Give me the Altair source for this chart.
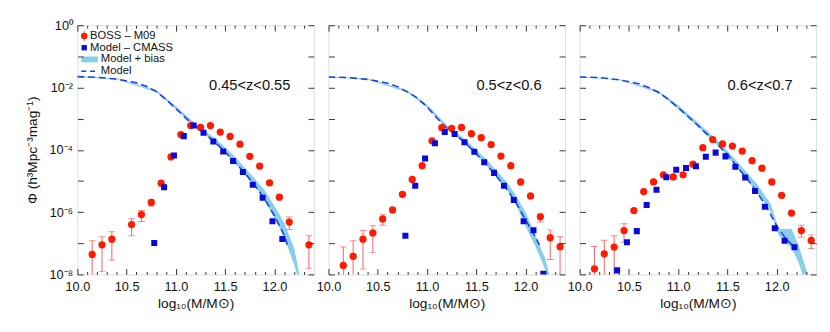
import altair as alt
import pandas as pd

XMIN, XMAX = 10.0, 12.4
YMIN, YMAX = -8.0, 0.0
W, H = 242, 255
FONT = "Liberation Sans"

z_labels = ["0.45<z<0.55", "0.5<z<0.6", "0.6<z<0.7"]
legend_labels = ["BOSS – M09", "Model – CMASS", "Model + bias", "Model"]

x_major = [10.0, 10.5, 11.0, 11.5, 12.0]
x_minor = [10.1, 10.2, 10.3, 10.4, 10.6, 10.7, 10.8, 10.9, 11.1, 11.2, 11.3, 11.4,
           11.6, 11.7, 11.8, 11.9, 12.1, 12.2, 12.3]
y_decades = [-8, -7, -6, -5, -4, -3, -2, -1, 0]
y_labelled = [-8, -6, -4, -2, 0]

# ---- BOSS - M09 (red circles), log10(Phi) ----
red_x = [
    [10.15, 10.25, 10.35, 10.55, 10.65, 10.75, 10.85, 10.95, 11.05, 11.15, 11.25, 11.35,
     11.45, 11.55, 11.65, 11.75, 11.85, 11.95, 12.05, 12.15, 12.35],
    [10.15, 10.25, 10.35, 10.45, 10.55, 10.65, 10.75, 10.85, 10.95, 11.05, 11.15, 11.25,
     11.35, 11.45, 11.55, 11.65, 11.75, 11.85, 11.95, 12.05, 12.15, 12.25, 12.35],
    [10.15, 10.25, 10.35, 10.45, 10.55, 10.65, 10.75, 10.85, 10.95, 11.05, 11.15, 11.25,
     11.35, 11.45, 11.55, 11.65, 11.75, 11.85, 11.95, 12.05, 12.15, 12.25, 12.35],
]
red_y = [
    [-7.36, -7.05, -6.87, -6.40, -6.08, -5.69, -5.07, -4.23, -3.51, -3.22, -3.28, -3.22,
     -3.43, -3.57, -3.82, -4.21, -4.52, -5.06, -5.52, -6.32, -7.05],
    [-7.71, -7.42, -6.87, -6.67, -6.22, -5.93, -5.43, -4.95, -4.51, -3.71, -3.29, -3.31,
     -3.28, -3.48, -3.61, -3.83, -4.20, -4.51, -5.03, -5.48, -6.15, -6.82, -7.11],
    [-7.82, -7.34, -7.12, -6.59, -5.95, -5.34, -5.03, -4.80, -4.87, -4.80, -4.46, -3.93,
     -3.67, -3.81, -3.88, -4.04, -4.35, -4.59, -5.03, -5.46, -6.03, -6.59, -6.91],
]
# visible error bars
err_x = [
    [10.15, 10.25, 10.35, 10.55, 10.65, 10.75, 12.15, 12.35],
    [10.15, 10.25, 10.35, 10.45, 10.55, 12.15, 12.25, 12.35],
    [10.15, 10.25, 10.35, 10.45, 12.25, 12.35],
]
err_hi = [
    [-6.92, -6.79, -6.63, -6.21, -5.95, -5.61, -6.16, -6.76],
    [-7.12, -6.92, -6.59, -6.44, -6.08, -6.06, -6.57, -6.79],
    [-7.10, -6.90, -6.76, -6.37, -6.42, -6.73],
]
err_lo = [
    [-9.0, -7.91, -7.54, -6.76, -6.30, -5.80, -6.56, -7.80],
    [-9.0, -9.0, -7.83, -7.30, -6.42, -6.32, -7.52, -9.0],
    [-9.0, -9.0, -9.0, -6.97, -6.81, -7.17],
]

# ---- Model - CMASS (blue squares) ----
blue_x = [
    [10.78, 10.88, 10.98, 11.08, 11.18, 11.28, 11.38, 11.48, 11.58, 11.68, 11.78, 11.88,
     11.98, 12.08],
    [10.78, 10.88, 10.98, 11.08, 11.18, 11.28, 11.38, 11.48, 11.58, 11.68, 11.78, 11.88,
     11.98, 12.08, 12.18],
    [10.38, 10.48, 10.58, 10.68, 10.78, 10.88, 10.98, 11.08, 11.18, 11.28, 11.38, 11.48,
     11.58, 11.68, 11.78, 11.88, 11.98, 12.08, 12.18],
]
blue_y = [
    [-6.99, -5.20, -4.18, -3.56, -3.22, -3.45, -3.73, -4.05, -4.36, -4.71, -5.12, -5.54,
     -6.29, -6.86],
    [-6.76, -5.15, -4.28, -3.79, -3.43, -3.49, -3.76, -4.06, -4.40, -4.74, -5.15, -5.61,
     -6.29, -6.58, -7.98],
    [-7.87, -6.97, -6.61, -5.77, -5.28, -4.88, -4.64, -4.58, -4.53, -4.22, -4.09, -4.21,
     -4.54, -4.89, -5.32, -5.83, -6.52, -6.92, -7.13],
]

# ---- Model (dashed) ----
model_x = [
    [10.0, 10.2, 10.4, 10.6, 10.7, 10.8, 10.9, 11.0, 11.1, 11.2, 11.3, 11.4, 11.5, 11.6,
     11.7, 11.8, 11.9, 12.0, 12.1, 12.13],
    [10.0, 10.2, 10.4, 10.6, 10.7, 10.8, 10.9, 11.0, 11.1, 11.2, 11.3, 11.4, 11.5, 11.6,
     11.7, 11.8, 11.9, 12.0, 12.1, 12.14],
    [10.0, 10.2, 10.4, 10.6, 10.7, 10.8, 10.9, 11.0, 11.1, 11.2, 11.3, 11.4, 11.5, 11.6,
     11.7, 11.8, 11.9, 12.0, 12.1, 12.19],
]
model_y = [
    [-1.65, -1.67, -1.73, -1.85, -1.96, -2.13, -2.38, -2.68, -2.98, -3.26, -3.50, -3.77,
     -4.07, -4.40, -4.75, -5.14, -5.58, -6.12, -6.75, -7.05],
    [-1.66, -1.68, -1.74, -1.86, -1.97, -2.14, -2.33, -2.62, -2.98, -3.30, -3.54, -3.82,
     -4.13, -4.47, -4.83, -5.22, -5.68, -6.25, -6.80, -7.05],
    [-1.66, -1.68, -1.75, -1.88, -2.00, -2.16, -2.38, -2.65, -2.93, -3.22, -3.52, -3.83,
     -4.15, -4.55, -4.93, -5.36, -5.85, -6.45, -6.88, -7.15],
]

# ---- Model + bias (band) ----
band_x = [
    [10.0, 10.4, 10.8, 11.0, 11.2, 11.4, 11.6, 11.8, 11.9, 12.0, 12.1, 12.2, 12.26],
    [10.0, 10.4, 10.8, 11.0, 11.2, 11.4, 11.6, 11.8, 11.9, 12.0, 12.1, 12.2, 12.25],
    [10.0, 10.4, 10.8, 11.0, 11.2, 11.4, 11.6, 11.8, 11.94, 12.02, 12.15, 12.22, 12.32],
]
band_hi = [
    [-1.63, -1.71, -2.08, -2.60, -3.16, -3.64, -4.22, -4.93, -5.30, -5.80, -6.35, -7.15, -8.1],
    [-1.64, -1.72, -2.09, -2.55, -3.20, -3.70, -4.30, -5.00, -5.45, -6.00, -6.75, -7.50, -8.1],
    [-1.64, -1.73, -2.10, -2.57, -3.12, -3.70, -4.38, -5.10, -5.74, -6.55, -6.53, -7.05, -8.05],
]
band_lo = [
    [-1.66, -1.74, -2.14, -2.70, -3.28, -3.79, -4.42, -5.17, -5.62, -6.18, -6.80, -7.70, -8.3],
    [-1.67, -1.75, -2.15, -2.64, -3.32, -3.84, -4.49, -5.24, -5.75, -6.45, -7.10, -7.85, -8.3],
    [-1.67, -1.76, -2.17, -2.68, -3.26, -3.86, -4.58, -5.36, -5.98, -6.75, -7.15, -7.60, -8.6],
]

RED = "#ff1a00"
ERR = "#f06060"
BLUE = "#0a0ad8"
BAND = "#87ceeb"
DASH = "#1f3fe6"

xs = alt.Scale(domain=[XMIN, XMAX], nice=False, zero=False)
ys = alt.Scale(domain=[YMIN, YMAX], nice=False, zero=False)

LABEL_EXPR = ("datum.value == 0 ? '10⁰' : datum.value == -2 ? '10⁻²' : "
              "datum.value == -4 ? '10⁻⁴' : datum.value == -6 ? '10⁻⁶' : "
              "datum.value == -8 ? '10⁻⁸' : ''")


def tick_axis(orient, values, size, offset):
    return alt.Axis(orient=orient, values=values, tickSize=size, offset=offset,
                    labels=False, domain=False, title=None, grid=False,
                    ticks=True, tickColor="#333", tickWidth=1, zindex=1)


def panel(i):
    band = pd.DataFrame({"x": band_x[i], "hi": band_hi[i], "lo": band_lo[i]})
    model = pd.DataFrame({"x": model_x[i], "y": model_y[i]})
    red = pd.DataFrame({"x": red_x[i], "y": red_y[i]})
    blue = pd.DataFrame({"x": blue_x[i], "y": blue_y[i]})
    err = pd.DataFrame({"x": err_x[i], "hi": err_hi[i], "lo": err_lo[i]})

    def X(f="x", axis=None):
        return alt.X(f, type="quantitative", scale=xs, axis=axis)

    def Y(f="y", axis=None):
        return alt.Y(f, type="quantitative", scale=ys, axis=axis)

    layers = []
    layers.append(alt.Chart(band).mark_area(color=BAND, clip=True).encode(
        x=X(), y=Y("hi"), y2="lo"))
    layers.append(alt.Chart(model).mark_line(color=DASH, strokeWidth=1.6,
                                              strokeDash=[7, 4], clip=True).encode(
        x=X(), y=Y()))
    layers.append(alt.Chart(err).mark_rule(color=ERR, strokeWidth=1, clip=True).encode(
        x=X(), y=Y("hi"), y2="lo"))
    layers.append(alt.Chart(err).mark_tick(color=ERR, orient="horizontal", size=7,
                                            thickness=1, clip=True).encode(
        x=X(), y=Y("hi")))
    layers.append(alt.Chart(err).mark_tick(color=ERR, orient="horizontal", size=7,
                                            thickness=1, clip=True).encode(
        x=X(), y=Y("lo")))
    layers.append(alt.Chart(red).mark_point(shape="circle", filled=True, color=RED,
                                             size=55, opacity=1, clip=True).encode(
        x=X(), y=Y()))
    layers.append(alt.Chart(blue).mark_point(shape="square", filled=True, color=BLUE,
                                              size=38, opacity=1, clip=True).encode(
        x=X(), y=Y()))

    zdf = pd.DataFrame({"t": [z_labels[i]]})
    layers.append(alt.Chart(zdf).mark_text(font=FONT, fontSize=15, align="right",
                                            baseline="middle", color="#111").encode(
        x=alt.value(W - 24), y=alt.value(61), text="t:N"))

    # axes
    xlab = alt.Axis(orient="bottom", values=x_major, format=".1f", ticks=False,
                    tickSize=0, domain=False, grid=False, labelFont=FONT,
                    labelFontSize=13, labelColor="#111", labelPadding=6,
                    labelFlush=False, labelOverlap=False,
                    title="log₁₀(M/M⊙)", titleFont=FONT, titleFontSize=14,
                    titleFontWeight="normal", titleColor="#111", titlePadding=4)
    if i == 0:
        ylab = alt.Axis(orient="left", values=y_labelled, labelExpr=LABEL_EXPR,
                        ticks=False, tickSize=0, domain=False, grid=False,
                        labelFont=FONT, labelFontSize=13, labelColor="#111",
                        labelPadding=5, labelFlush=False, labelOverlap=False,
                        title="Φ (h³Mpc⁻³mag⁻¹)", titleFont=FONT, titleFontSize=14,
                        titleFontWeight="normal", titleColor="#111", titlePadding=10)
    else:
        ylab = None
    layers.append(alt.Chart(band).mark_point(opacity=0).encode(
        x=X("x", xlab), y=Y("hi", ylab)))
    layers.append(alt.Chart(band).mark_point(opacity=0).encode(
        x=X("x", tick_axis("top", x_major, 6, -H)),
        y=Y("hi", tick_axis("right", y_decades, 6, -W))))
    layers.append(alt.Chart(band).mark_point(opacity=0).encode(
        x=X("x", tick_axis("top", x_minor, 3, -H)),
        y=Y("hi", tick_axis("left", y_decades, 6, -W))))
    layers.append(alt.Chart(band).mark_point(opacity=0).encode(
        x=X("x", tick_axis("bottom", x_major, 6, -H)), y=Y("hi")))
    layers.append(alt.Chart(band).mark_point(opacity=0).encode(
        x=X("x", tick_axis("bottom", x_minor, 3, -H)), y=Y("hi")))

    if i == 0:
        one = pd.DataFrame({"t": [legend_labels[0]]})
        lx = 7
        rows = [11, 23, 35, 47]
        leg = []
        leg.append(alt.Chart(one).mark_rule(color=ERR).encode(
            x=alt.value(lx), y=alt.value(rows[0] - 5), y2=alt.value(rows[0] + 5)))
        leg.append(alt.Chart(one).mark_point(shape="circle", filled=True, color=RED,
                                              size=45, opacity=1).encode(
            x=alt.value(lx), y=alt.value(rows[0])))
        leg.append(alt.Chart(one).mark_point(shape="square", filled=True, color=BLUE,
                                              size=30, opacity=1).encode(
            x=alt.value(lx), y=alt.value(rows[1])))
        leg.append(alt.Chart(one).mark_rect(color=BAND).encode(
            x=alt.value(4), x2=alt.value(21), y=alt.value(rows[2] - 3),
            y2=alt.value(rows[2] + 3)))
        leg.append(alt.Chart(one).mark_rule(color=DASH, strokeWidth=1.6,
                                             strokeDash=[5, 4]).encode(
            x=alt.value(4), x2=alt.value(21), y=alt.value(rows[3])))
        for k, (tx, ty) in enumerate([(13, rows[0]), (13, rows[1]), (24, rows[2]),
                                       (24, rows[3])]):
            sub = pd.DataFrame({"t": [legend_labels[k]]})
            leg.append(alt.Chart(sub).mark_text(font=FONT, fontSize=11.5, align="left",
                                                 baseline="middle", color="#111").encode(
                x=alt.value(tx), y=alt.value(ty), text="t:N"))
        layers.extend(leg)

    return alt.layer(*layers).resolve_axis(x="independent", y="independent").properties(
        width=W, height=H)


chart = alt.hconcat(panel(0), panel(1), panel(2), spacing=0).properties(
    padding={"left": 17, "top": 7, "right": 5, "bottom": 5}
).configure_view(stroke="#333", strokeWidth=1).configure(background="white")

chart.save("out.html", embed_options={"renderer": "svg", "actions": False})
